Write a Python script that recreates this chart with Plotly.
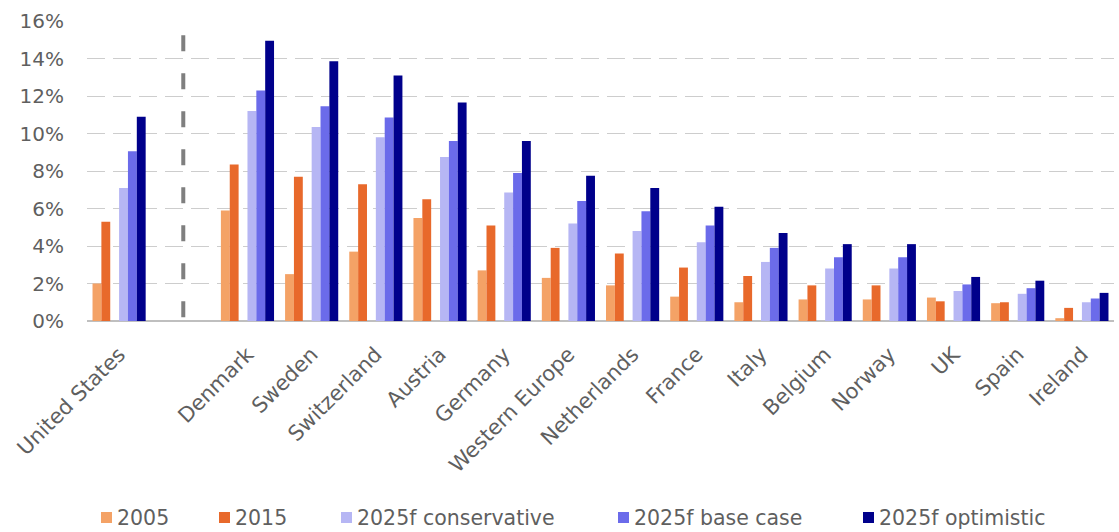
import plotly.graph_objects as go

categories = ["United States", " ", "Denmark", "Sweden", "Switzerland", "Austria",
              "Germany", "Western Europe", "Netherlands", "France", "Italy",
              "Belgium", "Norway", "UK", "Spain", "Ireland"]

v2005 = [2.0, None, 5.9, 2.5, 3.7, 5.5, 2.7, 2.3, 1.9, 1.3, 1.0, 1.15, 1.15, 1.25, 0.95, 0.15]
v2015 = [5.3, None, 8.35, 7.7, 7.3, 6.5, 5.1, 3.9, 3.6, 2.85, 2.4, 1.9, 1.9, 1.05, 1.0, 0.7]
v_cons = [7.1, None, 11.2, 10.35, 9.8, 8.75, 6.85, 5.2, 4.8, 4.2, 3.15, 2.8, 2.8, 1.6, 1.45, 1.0]
v_base = [9.05, None, 12.3, 11.45, 10.85, 9.6, 7.9, 6.4, 5.85, 5.1, 3.9, 3.4, 3.4, 1.95, 1.75, 1.2]
v_opt = [10.9, None, 14.95, 13.85, 13.1, 11.65, 9.6, 7.75, 7.1, 6.1, 4.7, 4.1, 4.1, 2.35, 2.15, 1.5]

series_names = ["2005", "2015", "2025f conservative", "2025f base case", "2025f optimistic"]
series_values = [v2005, v2015, v_cons, v_base, v_opt]
colors = ["#F4A266", "#E8692B", "#B6B6F4", "#6B6BEA", "#00008B"]

FONT = "DejaVu Sans"
TXT = "#5f5f5f"

W, H = 1119, 532
ML, MR, MT, MB = 87, 5, 21, 211
PW, PH = W - ML - MR, H - MT - MB

fig = go.Figure()
for i, (name, vals, col) in enumerate(zip(series_names, series_values, colors)):
    fig.add_trace(go.Bar(x=categories, y=vals, name=name, marker_color=col,
                         marker_line_width=0, showlegend=False))
    if i == 1:
        # empty spacer slot between historical and forecast bars
        fig.add_trace(go.Bar(x=categories, y=[None] * len(categories), name="",
                             showlegend=False, hoverinfo="skip"))

# separator between United States and the European countries
fig.add_shape(type="line", xref="x", yref="y", x0=categories[1], x1=categories[1],
              y0=0.2, y1=15.4, line=dict(color="#7f7f7f", width=4, dash="16px,22px"))

# legend (drawn as swatches + text to match the original spacing)
legend_left_px = [101, 219, 341, 618, 863]
legend_y_px = 517.5
sw = 11
for name, col, xpx in zip(series_names, colors, legend_left_px):
    x0 = (xpx - ML) / PW
    x1 = (xpx + sw - ML) / PW
    yc = (H - MB - legend_y_px) / PH
    hh = (sw / 2) / PH
    fig.add_shape(type="rect", xref="paper", yref="paper", x0=x0, x1=x1,
                  y0=yc - hh, y1=yc + hh, fillcolor=col, line_width=0)
    fig.add_annotation(xref="paper", yref="paper", x=(xpx + sw + 3 - ML) / PW, y=yc,
                       xanchor="left", yanchor="middle", text=name, showarrow=False,
                       font=dict(family=FONT, size=20.5, color=TXT))

fig.update_layout(
    width=W, height=H,
    margin=dict(l=ML, r=MR, t=MT, b=MB),
    barmode="group", bargap=0.172, bargroupgap=0,
    plot_bgcolor="white", paper_bgcolor="white",
    font=dict(family=FONT, size=20, color=TXT),
    showlegend=False,
)
fig.update_xaxes(type="category", categoryorder="array", categoryarray=categories,
                 tickangle=-45, showgrid=False, showline=False, ticks="",
                 ticklabelstandoff=16,
                 tickfont=dict(family=FONT, size=21, color=TXT))
fig.update_yaxes(range=[0, 16], dtick=2, ticksuffix="%", showgrid=True,
                 gridcolor="#cdcdcd", gridwidth=1.3, griddash="18px,8px",
                 zeroline=True, zerolinecolor="#bfbfbf", zerolinewidth=2,
                 showline=False, ticks="", ticklabelstandoff=22,
                 tickfont=dict(family=FONT, size=20, color=TXT))

fig.write_html("out.html")
